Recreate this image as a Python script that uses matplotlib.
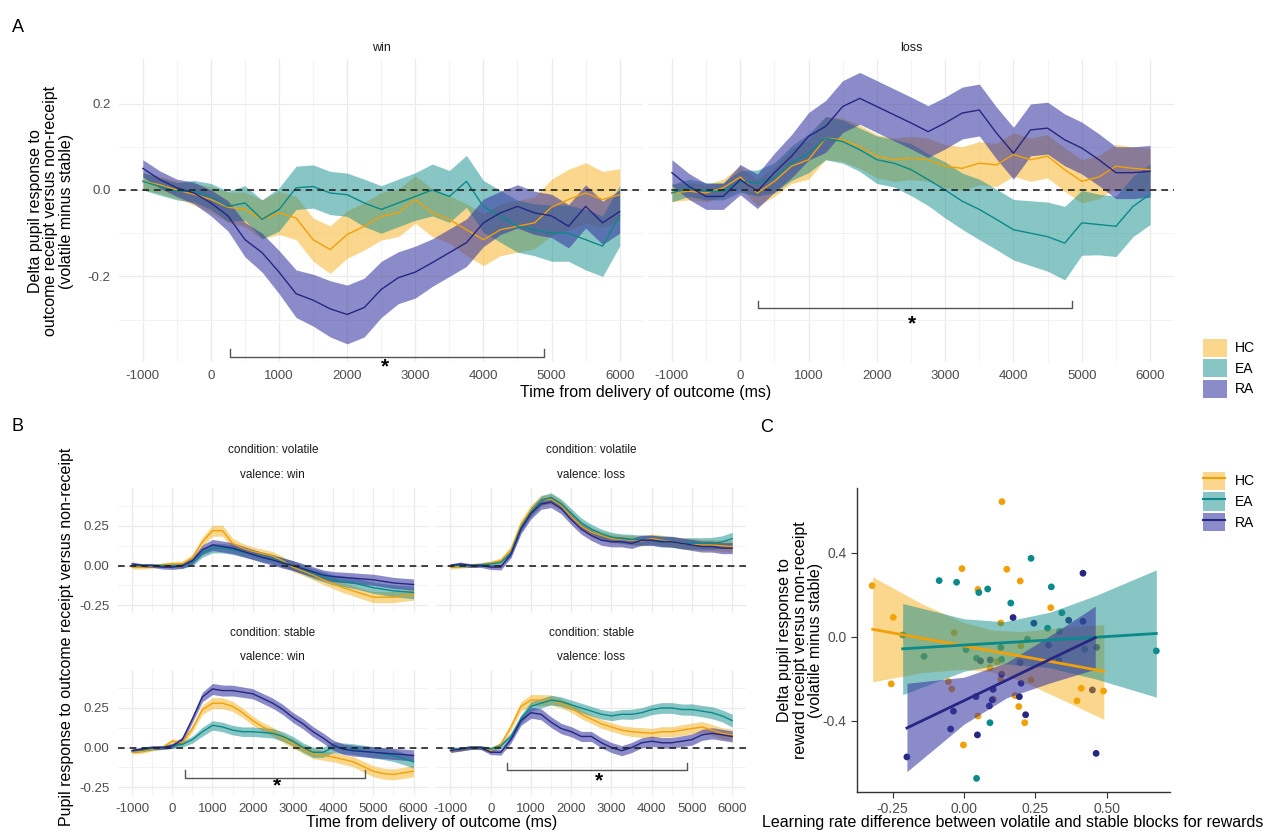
import numpy as np
import matplotlib.pyplot as plt
from matplotlib.patches import Patch
from matplotlib.lines import Line2D

plt.rcParams['font.family'] = ['Liberation Sans', 'DejaVu Sans']
plt.rcParams['axes.unicode_minus'] = False

# ---------------- data ----------------
GROUPS = ['HC', 'EA', 'RA']
TIME = [-1000, -750, -500, -250, 0, 250, 500, 750, 1000, 1250, 1500, 1750, 2000, 2250,
        2500, 2750, 3000, 3250, 3500, 3750, 4000, 4250, 4500, 4750, 5000, 5250, 5500, 5750, 6000]

# panel A, win (volatile minus stable)
a_win_hc = [0.02, 0.012, 0.0, -0.01, -0.022, -0.04, -0.045, -0.068, -0.053, -0.065, -0.115, -0.138, -0.103, -0.084,
            -0.061, -0.053, -0.022, -0.053, -0.068, -0.092, -0.115, -0.092, -0.084, -0.076, -0.04, -0.022, -0.007, -0.022, -0.011]
a_win_ea = [0.02, 0.008, -0.003, -0.003, -0.015, -0.038, -0.03, -0.068, -0.045, 0.005, 0.008, -0.007, -0.011, -0.03,
            -0.045, -0.03, -0.015, 0.0, -0.015, 0.02, -0.038, -0.061, -0.084, -0.092, -0.1, -0.1, -0.115, -0.13, -0.06]
a_win_ra = [0.05, 0.024, 0.005, -0.007, -0.03, -0.06, -0.115, -0.145, -0.19, -0.24, -0.255, -0.275, -0.288, -0.272,
            -0.23, -0.203, -0.19, -0.168, -0.145, -0.122, -0.076, -0.053, -0.038, -0.053, -0.06, -0.084, -0.038, -0.076, -0.05]
a_win_hc_se = [0.02, 0.02, 0.02, 0.025, 0.03, 0.035, 0.04, 0.045, 0.05, 0.05, 0.05, 0.055, 0.055, 0.055, 0.055,
               0.055, 0.055, 0.055, 0.055, 0.06, 0.06, 0.06, 0.06, 0.06, 0.065, 0.07, 0.07, 0.065, 0.06]
a_win_ea_se = [0.02, 0.02, 0.02, 0.025, 0.03, 0.035, 0.04, 0.045, 0.05, 0.05, 0.05, 0.05, 0.05, 0.055, 0.055,
               0.055, 0.055, 0.06, 0.06, 0.06, 0.06, 0.06, 0.06, 0.06, 0.065, 0.065, 0.07, 0.07, 0.07]
a_win_ra_se = [0.02, 0.02, 0.02, 0.025, 0.03, 0.035, 0.04, 0.045, 0.05, 0.055, 0.06, 0.065, 0.068, 0.068, 0.065,
               0.06, 0.06, 0.055, 0.055, 0.055, 0.055, 0.05, 0.05, 0.05, 0.05, 0.05, 0.05, 0.05, 0.05]

# panel A, loss
a_loss_hc = [-0.007, -0.003, -0.007, 0.005, 0.03, -0.007, 0.02, 0.055, 0.07, 0.12, 0.116, 0.1, 0.078, 0.07,
             0.074, 0.07, 0.055, 0.05, 0.062, 0.058, 0.082, 0.07, 0.078, 0.047, 0.02, 0.03, 0.055, 0.05, 0.047]
a_loss_ea = [-0.007, 0.005, -0.003, -0.003, 0.02, 0.016, 0.028, 0.062, 0.085, 0.12, 0.112, 0.093, 0.07, 0.062,
             0.047, 0.024, 0.0, -0.026, -0.045, -0.068, -0.092, -0.1, -0.108, -0.123, -0.076, -0.08, -0.084, -0.038, -0.01]
a_loss_ra = [0.04, 0.008, -0.015, -0.015, 0.024, -0.003, 0.04, 0.078, 0.124, 0.147, 0.193, 0.212, 0.193, 0.174,
             0.155, 0.135, 0.155, 0.178, 0.185, 0.132, 0.085, 0.139, 0.143, 0.116, 0.097, 0.07, 0.04, 0.04, 0.043]
a_loss_hc_se = [0.02, 0.02, 0.02, 0.02, 0.025, 0.03, 0.035, 0.04, 0.045, 0.05, 0.05, 0.05, 0.05, 0.05, 0.05,
                0.05, 0.05, 0.05, 0.05, 0.05, 0.05, 0.05, 0.05, 0.05, 0.05, 0.05, 0.05, 0.05, 0.05]
a_loss_ea_se = [0.02, 0.02, 0.02, 0.02, 0.025, 0.03, 0.035, 0.04, 0.045, 0.05, 0.05, 0.05, 0.055, 0.055, 0.06,
                0.06, 0.065, 0.065, 0.07, 0.07, 0.07, 0.075, 0.08, 0.085, 0.075, 0.07, 0.07, 0.07, 0.07]
a_loss_ra_se = [0.03, 0.03, 0.03, 0.03, 0.035, 0.04, 0.045, 0.05, 0.055, 0.06, 0.06, 0.06, 0.06, 0.06, 0.06,
                0.06, 0.06, 0.06, 0.06, 0.06, 0.06, 0.06, 0.06, 0.06, 0.06, 0.06, 0.06, 0.06, 0.06]

# panel B, volatile / win
b_vw_hc = [-0.01, -0.01, -0.005, 0.005, 0.01, 0.01, 0.05, 0.15, 0.22, 0.22, 0.14, 0.11, 0.09, 0.075, 0.06,
           0.03, -0.01, -0.035, -0.06, -0.09, -0.115, -0.14, -0.16, -0.18, -0.2, -0.2, -0.2, -0.19, -0.185]
b_vw_ea = [0.0, 0.0, 0.0, 0.0, 0.0, 0.0, 0.02, 0.08, 0.11, 0.11, 0.1, 0.085, 0.07, 0.055, 0.04,
           0.02, 0.0, -0.025, -0.05, -0.07, -0.09, -0.1, -0.11, -0.125, -0.14, -0.15, -0.16, -0.165, -0.17]
b_vw_ra = [0.01, 0.0, 0.0, -0.01, -0.01, 0.0, 0.03, 0.1, 0.13, 0.12, 0.11, 0.09, 0.07, 0.05, 0.035,
           0.015, 0.0, -0.02, -0.04, -0.06, -0.07, -0.075, -0.08, -0.085, -0.09, -0.1, -0.11, -0.115, -0.12]
# panel B, volatile / loss
b_vl_hc = [-0.01, -0.005, 0.0, 0.005, 0.015, 0.03, 0.1, 0.26, 0.35, 0.41, 0.42, 0.38, 0.31, 0.25, 0.21,
           0.19, 0.17, 0.165, 0.16, 0.155, 0.17, 0.16, 0.15, 0.14, 0.135, 0.13, 0.13, 0.125, 0.12]
b_vl_ea = [0.0, 0.0, 0.0, 0.005, 0.01, 0.02, 0.08, 0.24, 0.34, 0.41, 0.43, 0.39, 0.33, 0.27, 0.23,
           0.2, 0.18, 0.17, 0.165, 0.16, 0.16, 0.155, 0.15, 0.14, 0.14, 0.14, 0.14, 0.15, 0.17]
b_vl_ra = [0.0, 0.01, 0.0, 0.0, -0.01, -0.01, 0.07, 0.23, 0.33, 0.39, 0.4, 0.36, 0.29, 0.23, 0.19,
           0.16, 0.15, 0.15, 0.14, 0.16, 0.16, 0.15, 0.15, 0.14, 0.13, 0.12, 0.12, 0.11, 0.11]
# panel B, stable / win
b_sw_hc = [-0.03, -0.025, -0.01, 0.0, 0.04, 0.03, 0.12, 0.24, 0.28, 0.28, 0.26, 0.22, 0.17, 0.13, 0.1,
           0.06, 0.025, -0.01, -0.04, -0.05, -0.06, -0.075, -0.09, -0.12, -0.15, -0.165, -0.17, -0.16, -0.15]
b_sw_ea = [-0.02, -0.015, -0.005, 0.0, 0.01, 0.02, 0.05, 0.1, 0.14, 0.13, 0.11, 0.1, 0.1, 0.095, 0.09,
           0.07, 0.04, 0.0, -0.03, -0.03, 0.0, -0.005, -0.01, -0.02, -0.03, -0.04, -0.05, -0.07, -0.09]
b_sw_ra = [-0.02, -0.01, 0.0, 0.0, 0.01, 0.05, 0.18, 0.32, 0.37, 0.36, 0.36, 0.35, 0.34, 0.31, 0.28,
           0.24, 0.19, 0.15, 0.1, 0.06, 0.015, -0.01, -0.02, -0.025, -0.03, -0.035, -0.04, -0.045, -0.05]
# panel B, stable / loss
b_sl_hc = [-0.02, -0.01, 0.0, 0.0, -0.02, 0.02, 0.13, 0.26, 0.3, 0.3, 0.3, 0.28, 0.25, 0.21, 0.18,
           0.15, 0.13, 0.11, 0.1, 0.095, 0.09, 0.1, 0.1, 0.11, 0.12, 0.13, 0.11, 0.09, 0.08]
b_sl_ea = [-0.01, -0.01, 0.0, 0.0, -0.01, 0.01, 0.07, 0.18, 0.26, 0.28, 0.3, 0.29, 0.27, 0.25, 0.23,
           0.21, 0.2, 0.21, 0.21, 0.22, 0.24, 0.25, 0.25, 0.24, 0.24, 0.23, 0.22, 0.2, 0.17]
b_sl_ra = [-0.02, -0.01, 0.0, 0.0, -0.03, -0.03, 0.05, 0.17, 0.22, 0.21, 0.16, 0.12, 0.1, 0.07, 0.07,
           0.03, 0.0, -0.02, 0.0, 0.03, 0.04, 0.03, 0.03, 0.04, 0.05, 0.08, 0.09, 0.08, 0.07]
# half widths of the ribbons in B (one per group, read roughly)
b_se_hc = [0.012, 0.012, 0.012, 0.012, 0.015, 0.018, 0.022, 0.03, 0.035, 0.035, 0.032, 0.03, 0.028, 0.028, 0.028,
           0.028, 0.028, 0.028, 0.03, 0.03, 0.03, 0.032, 0.032, 0.034, 0.035, 0.035, 0.035, 0.035, 0.035]
b_se_ea = [0.012, 0.012, 0.012, 0.012, 0.015, 0.018, 0.022, 0.028, 0.03, 0.03, 0.03, 0.03, 0.03, 0.03, 0.03,
           0.03, 0.03, 0.03, 0.032, 0.032, 0.032, 0.034, 0.034, 0.035, 0.036, 0.036, 0.038, 0.038, 0.04]
b_se_ra = [0.012, 0.012, 0.012, 0.012, 0.015, 0.018, 0.022, 0.03, 0.035, 0.035, 0.034, 0.033, 0.032, 0.032, 0.032,
           0.032, 0.032, 0.032, 0.032, 0.032, 0.032, 0.033, 0.034, 0.034, 0.035, 0.035, 0.035, 0.035, 0.035]

# panel C, individual points
hc_x = [-0.322, -0.248, -0.255, -0.034, -0.007, -0.002, 0.049, 0.049, 0.091, 0.117, 0.133, 0.150, 0.179, 0.192,
        0.197, 0.199, 0.213, 0.304, 0.396, 0.411, 0.489, -0.055, -0.043, 0.103, 0.235, 0.129, 0.129]
hc_y = [0.243, 0.092, -0.225, 0.019, 0.324, -0.516, 0.225, -0.378, -0.148, -0.119, 0.643, 0.321, -0.281, -0.333,
        0.265, -0.043, -0.410, 0.138, -0.306, -0.246, -0.259, -0.214, -0.249, -0.299, -0.206, -0.203, 0.065]
ea_x = [-0.087, -0.026, 0.052, 0.083, 0.164, 0.235, 0.306, 0.343, 0.335, -0.215, -0.140, 0.007, 0.044, 0.129,
        0.132, 0.222, 0.293, 0.091, 0.044, 0.674, 0.423]
ea_y = [0.267, 0.259, 0.210, 0.227, 0.160, 0.373, 0.237, 0.114, 0.024, 0.008, -0.094, -0.062, -0.103, -0.051,
        -0.108, -0.013, 0.040, -0.410, -0.675, -0.068, -0.060]
ra_x = [0.172, 0.245, 0.367, 0.417, 0.417, 0.296, 0.333, 0.197, 0.132, 0.102, 0.200, 0.042, 0.089, 0.194,
        0.216, -0.037, -0.047, 0.047, -0.200, 0.099, 0.463, 0.450, 0.058, 0.092, 0.465]
ra_y = [0.091, 0.064, 0.078, 0.302, 0.073, -0.040, -0.114, -0.124, -0.179, -0.251, -0.222, -0.286, -0.330, -0.286,
        -0.372, -0.355, -0.440, -0.468, -0.573, -0.301, -0.556, -0.254, -0.116, -0.111, -0.051]

# panel C, fitted lm lines with 95% band, read at a few x positions
hc_fx = [-0.32, -0.15, 0.0, 0.1, 0.2, 0.35, 0.49]
hc_fit = [0.035, -0.007, -0.044, -0.069, -0.093, -0.130, -0.165]
hc_lo = [-0.215, -0.172, -0.155, -0.169, -0.210, -0.304, -0.394]
hc_hi = [0.285, 0.158, 0.067, 0.031, 0.024, 0.044, 0.058]
ea_fx = [-0.215, 0.0, 0.14, 0.3, 0.46, 0.674]
ea_fit = [-0.058, -0.040, -0.029, -0.016, -0.003, 0.015]
ea_lo = [-0.276, -0.165, -0.129, -0.148, -0.201, -0.288]
ea_hi = [0.158, 0.085, 0.071, 0.116, 0.195, 0.318]
ra_fx = [-0.2, 0.0, 0.15, 0.3, 0.46]
ra_fit = [-0.435, -0.305, -0.207, -0.109, -0.005]
ra_lo = [-0.643, -0.417, -0.291, -0.221, -0.155]
ra_hi = [-0.222, -0.193, -0.123, 0.003, 0.145]

# ---------------- style ----------------
LINE = {'HC': '#F2A007', 'EA': '#0A8A8A', 'RA': '#262683'}
FILL = {'HC': '#F5A800', 'EA': '#128C8C', 'RA': '#3838A2'}
ALPHA = {'HC': 0.45, 'EA': 0.5, 'RA': 0.58}
TICKC = '#4D4D4D'
GRIDC = '#EBEBEB'

W, H = 1274, 833
fig = plt.figure(figsize=(W / 100, H / 100), dpi=100)


def add_ax(x0, y0, x1, y1):
    return fig.add_axes([x0 / W, 1 - y1 / H, (x1 - x0) / W, (y1 - y0) / H])


def time_panel(ax, means, ses, ylim, ymajor, yminor, yfmt, show_x, show_y, tsize):
    for g, m, s in zip(GROUPS, means, ses):
        m = np.array(m)
        s = np.array(s)
        ax.fill_between(TIME, m - s, m + s, color=FILL[g], alpha=ALPHA[g], lw=0, zorder=2)
    for g, m in zip(GROUPS, means):
        ax.plot(TIME, m, color=LINE[g], lw=1.0, zorder=3)
    ax.axhline(0, color='#222222', lw=1.2, ls=(0, (4, 3)), zorder=4)
    ax.set_xlim(-1350, 6350)
    ax.set_ylim(*ylim)
    ax.set_xticks(range(-1000, 6001, 1000))
    ax.set_xticks(range(-500, 6001, 1000), minor=True)
    ax.set_yticks(ymajor)
    ax.set_yticks(yminor, minor=True)
    ax.set_yticklabels([yfmt % v for v in ymajor])
    ax.grid(which='major', color=GRIDC, lw=0.9)
    ax.grid(which='minor', color='#F3F3F3', lw=0.7)
    ax.set_axisbelow(True)
    for sp in ax.spines.values():
        sp.set_visible(False)
    ax.tick_params(which='both', length=0, colors=TICKC, labelsize=tsize, pad=6)
    ax.tick_params(labelbottom=show_x, labelleft=show_y)


def bracket(ax, x0, x1, y, h, sx, sy):
    ax.plot([x0, x0, x1, x1], [y + h, y, y, y + h], color='#555555', lw=1.0, clip_on=False, zorder=5)
    ax.text(sx, sy, '*', ha='center', va='center', fontsize=15, fontweight='bold', clip_on=False)


# ---------------- panel A ----------------
ylimA = (-0.398, 0.303)
axA1 = add_ax(119, 59, 643.5, 362)
time_panel(axA1, [a_win_hc, a_win_ea, a_win_ra], [a_win_hc_se, a_win_ea_se, a_win_ra_se],
           ylimA, [-0.2, 0.0, 0.2], [-0.3, -0.1, 0.1], '%.1f', True, True, 9.5)
axA2 = add_ax(648, 59, 1174, 362)
time_panel(axA2, [a_loss_hc, a_loss_ea, a_loss_ra], [a_loss_hc_se, a_loss_ea_se, a_loss_ra_se],
           ylimA, [-0.2, 0.0, 0.2], [-0.3, -0.1, 0.1], '%.1f', True, False, 9.5)
axA1.set_title('win', fontsize=9, color='#1A1A1A', pad=6)
axA2.set_title('loss', fontsize=9, color='#1A1A1A', pad=6)
bracket(axA1, 275, 4885, -0.386, 0.019, 2550, -0.41)
bracket(axA2, 255, 4855, -0.272, 0.014, 2510, -0.31)

fig.text(51 / W, 1 - 211 / H, 'Delta pupil response to\noutcome receipt versus non-receipt\n(volatile minus stable)',
         rotation=90, ha='center', va='center', fontsize=11.5, linespacing=1.05)
fig.text(646 / W, 1 - 393 / H, 'Time from delivery of outcome (ms)', ha='center', va='center', fontsize=11.5)

legA = [Patch(facecolor=FILL[g], alpha=ALPHA[g], edgecolor='none') for g in GROUPS]
fig.legend(legA, GROUPS, loc='upper left', bbox_to_anchor=(1190 / W, 1 - 326 / H), frameon=False,
           handlelength=1.75, handleheight=1.65, labelspacing=0.16, handletextpad=0.6, fontsize=10)

# ---------------- panel B ----------------
ylimB = (-0.30, 0.49)
yB = [-0.25, 0.0, 0.25]
yBm = [-0.125, 0.125, 0.375]
bse = [b_se_hc, b_se_ea, b_se_ra]
axB1 = add_ax(118, 488, 427.6, 613)
time_panel(axB1, [b_vw_hc, b_vw_ea, b_vw_ra], bse, ylimB, yB, yBm, '%.2f', False, True, 9.5)
axB2 = add_ax(436.4, 488, 746.3, 613)
time_panel(axB2, [b_vl_hc, b_vl_ea, b_vl_ra], bse, ylimB, yB, yBm, '%.2f', False, False, 9.5)
axB3 = add_ax(118, 670, 427.6, 795)
time_panel(axB3, [b_sw_hc, b_sw_ea, b_sw_ra], bse, ylimB, yB, yBm, '%.2f', True, True, 9.5)
axB4 = add_ax(436.4, 670, 746.3, 795)
time_panel(axB4, [b_sl_hc, b_sl_ea, b_sl_ra], bse, ylimB, yB, yBm, '%.2f', True, False, 9.5)
for ax, cond, val in [(axB1, 'volatile', 'win'), (axB2, 'volatile', 'loss'),
                      (axB3, 'stable', 'win'), (axB4, 'stable', 'loss')]:
    ax.text(0.5, 1.30, 'condition: ' + cond, transform=ax.transAxes, ha='center', va='center',
            fontsize=8.5, color='#1A1A1A')
    ax.text(0.5, 1.10, 'valence: ' + val, transform=ax.transAxes, ha='center', va='center',
            fontsize=8.5, color='#1A1A1A')
bracket(axB3, 310, 4800, -0.19, 0.045, 2610, -0.245)
bracket(axB4, 410, 4865, -0.14, 0.045, 2680, -0.21)

fig.text(67 / W, 1 - 637 / H, 'Pupil response to outcome receipt versus non-receipt', rotation=90,
         ha='center', va='center', fontsize=11.5)
fig.text(432 / W, 1 - 823 / H, 'Time from delivery of outcome (ms)', ha='center', va='center', fontsize=11.5)

# ---------------- panel C ----------------
axC = add_ax(857, 488, 1170, 792)
for g, px, py in [('HC', hc_x, hc_y), ('EA', ea_x, ea_y), ('RA', ra_x, ra_y)]:
    axC.scatter(px, py, s=24, color=LINE[g], edgecolors='none', zorder=2)
for g, fx, fit, lo, hi in [('HC', hc_fx, hc_fit, hc_lo, hc_hi), ('EA', ea_fx, ea_fit, ea_lo, ea_hi),
                           ('RA', ra_fx, ra_fit, ra_lo, ra_hi)]:
    axC.fill_between(fx, lo, hi, color=FILL[g], alpha=ALPHA[g], lw=0, zorder=3)
for g, fx, fit in [('HC', hc_fx, hc_fit), ('EA', ea_fx, ea_fit), ('RA', ra_fx, ra_fit)]:
    axC.plot(fx, fit, color=LINE[g], lw=2.0, zorder=4)
axC.set_xlim(-0.375, 0.722)
axC.set_ylim(-0.74, 0.708)
axC.set_xticks([-0.25, 0.0, 0.25, 0.5])
axC.set_xticklabels(['-0.25', '0.00', '0.25', '0.50'])
axC.set_yticks([-0.4, 0.0, 0.4])
axC.set_yticklabels(['-0.4', '0.0', '0.4'])
for side in ['top', 'right']:
    axC.spines[side].set_visible(False)
for side in ['left', 'bottom']:
    axC.spines[side].set_color('#333333')
    axC.spines[side].set_linewidth(1.0)
axC.tick_params(length=4, color='#333333', colors=TICKC, labelsize=10)
axC.tick_params(axis='x', colors='#333333', labelcolor=TICKC)

fig.text(800 / W, 1 - 640 / H, 'Delta pupil response to\nreward receipt versus non-receipt\n(volatile minus stable)',
         rotation=90, ha='center', va='center', fontsize=11.5, linespacing=1.05)
fig.text(1013 / W, 1 - 823 / H, 'Learning rate difference between volatile and stable blocks for rewards',
         ha='center', va='center', fontsize=11.5)

legC = [(Patch(facecolor=FILL[g], alpha=ALPHA[g], edgecolor='none'), Line2D([], [], color=LINE[g], lw=1.5))
        for g in GROUPS]
fig.legend(legC, GROUPS, loc='upper left', bbox_to_anchor=(1190 / W, 1 - 459 / H), frameon=False,
           handlelength=1.6, handleheight=1.65, labelspacing=0.18, handletextpad=0.7, fontsize=10)

# panel letters
fig.text(12 / W, 1 - 28 / H, 'A', ha='left', va='center', fontsize=13)
fig.text(12 / W, 1 - 427 / H, 'B', ha='left', va='center', fontsize=13)
fig.text(760 / W, 1 - 428 / H, 'C', ha='left', va='center', fontsize=13)

fig.savefig('out.png', dpi=100)
